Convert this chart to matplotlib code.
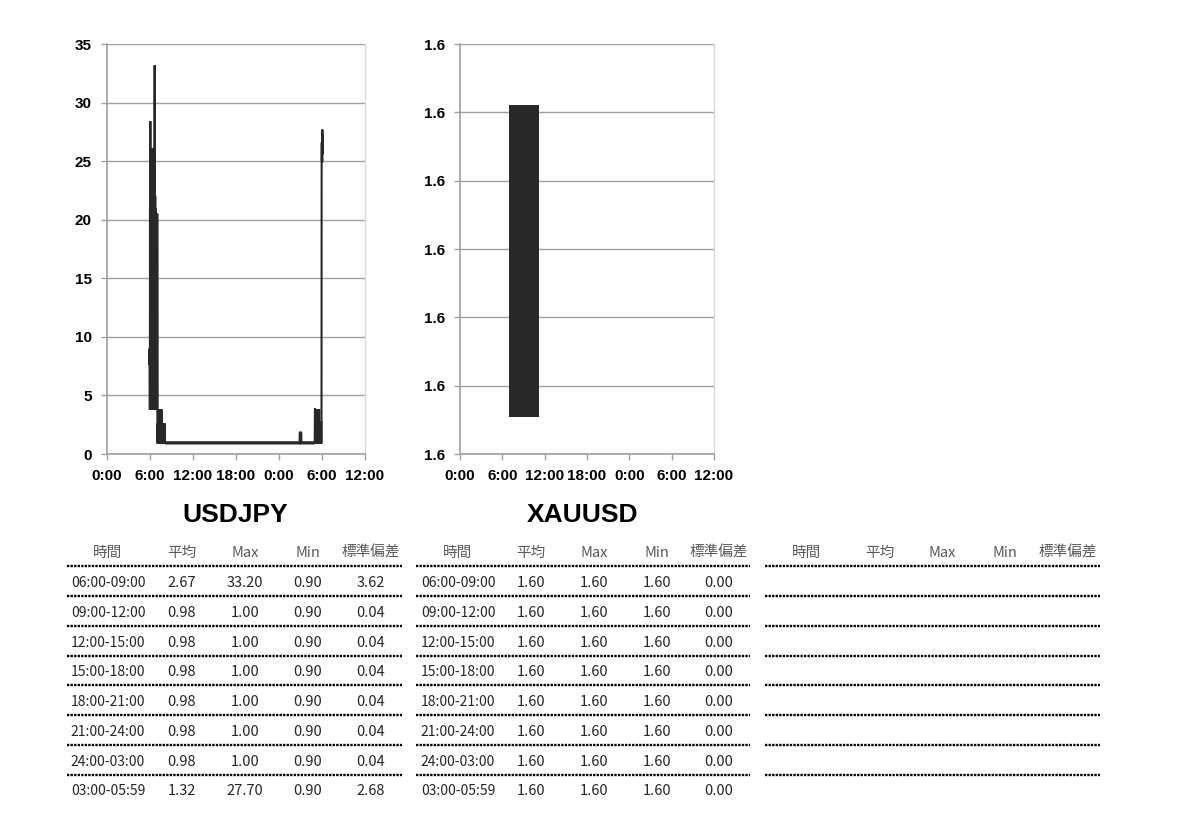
import matplotlib
matplotlib.use('Agg')
import matplotlib.pyplot as plt
from matplotlib.lines import Line2D
from matplotlib.ticker import FixedLocator, FuncFormatter

# ---------------- data ----------------
# USDJPY spread (hours from 0:00 of day 1)
usdjpy_hours = [
    5.92, 5.94, 5.96, 5.98, 6.00, 6.02, 6.05, 6.07, 6.09, 6.11, 6.13, 6.15, 6.17, 6.19, 6.21, 6.23,
    6.25, 6.27, 6.29, 6.31, 6.33, 6.35, 6.37, 6.39, 6.41, 6.43, 6.45, 6.47, 6.49, 6.51, 6.53, 6.55,
    6.57, 6.59, 6.61, 6.63, 6.65, 6.67, 6.69, 6.71, 6.73, 6.75, 6.77, 6.79, 6.81, 6.83, 6.85, 6.87,
    6.89, 6.91, 6.93, 6.95, 6.97, 6.99, 7.01, 7.03,
    7.05, 7.08, 7.11, 7.14, 7.17, 7.20, 7.23, 7.26, 7.29, 7.32, 7.35, 7.38, 7.41,
    7.44, 7.47, 7.50, 7.53, 7.56, 7.59, 7.62, 7.65, 7.68, 7.71, 7.74, 7.77, 7.80, 7.83, 7.86, 7.89,
    7.92, 7.95, 7.98, 8.01, 8.04, 8.07, 8.10,
    12.0, 18.0, 24.0, 26.95, 26.97, 27.03, 27.05, 28.98,
    29.02, 29.05, 29.10, 29.13, 29.17, 29.20, 29.24, 29.27, 29.31, 29.34, 29.38, 29.41, 29.45, 29.48,
    29.52, 29.55, 29.59, 29.62, 29.66, 29.69, 29.73, 29.76, 29.80, 29.83, 29.87, 29.90, 29.93,
    29.95, 29.97, 29.99, 30.01, 30.03, 30.05, 30.07, 30.09, 30.12,
]
usdjpy_spread = [
    7.7, 9.0, 7.8, 3.8, 21.0, 3.8, 28.4, 3.8, 25.2, 3.8, 21.0, 3.8, 25.3, 3.8, 24.0, 3.8,
    25.0, 3.8, 24.6, 3.8, 26.0, 3.8, 25.5, 3.8, 26.1, 3.8, 25.0, 3.8, 24.5, 3.8, 24.0, 3.8,
    23.5, 3.8, 26.0, 3.8, 33.2, 3.8, 22.4, 3.8, 22.0, 3.8, 21.0, 3.8, 20.5, 3.8, 20.5, 3.8,
    20.5, 3.8, 20.5, 3.8, 20.5, 3.8, 20.5, 3.8,
    0.9, 2.6, 0.9, 2.6, 0.9, 2.6, 0.9, 2.6, 0.9, 3.8, 0.9, 2.6, 0.9,
    2.6, 0.9, 3.8, 0.9, 2.6, 0.9, 3.8, 0.9, 2.6, 0.9, 2.6, 0.9, 2.6, 0.9, 2.6, 0.9,
    2.6, 0.9, 2.6, 0.9, 2.6, 0.9, 0.95,
    0.95, 0.95, 0.95, 0.95, 1.8, 1.8, 0.95, 0.95,
    3.9, 0.9, 2.8, 0.9, 3.8, 0.9, 2.8, 0.9, 3.8, 0.9, 2.8, 0.9, 3.8, 0.9,
    2.8, 0.9, 3.8, 0.9, 2.8, 0.9, 2.8, 0.9, 2.8, 0.9, 2.8, 0.9, 1.0,
    24.8, 26.6, 25.0, 26.8, 24.9, 27.7, 25.6, 27.3, 27.0,
]

# XAUUSD spread: range of the oscillating series
xau_hours = [6.94, 11.19]
xau_low = [1.599754, 1.599754]
xau_high = [1.600211, 1.600211]

x_tick_hours = [0, 6, 12, 18, 24, 30, 36]
x_tick_labels = ['0:00', '6:00', '12:00', '18:00', '0:00', '6:00', '12:00']
usd_y_ticks = [0, 5, 10, 15, 20, 25, 30, 35]
xau_y_ticks = [1.5997, 1.5998, 1.5999, 1.6000, 1.6001, 1.6002, 1.6003]

chart_titles = ['USDJPY', 'XAUUSD']

table_headers = ['時間', '平均', 'Max', 'Min', '標準偏差']
periods = ['06:00-09:00', '09:00-12:00', '12:00-15:00', '15:00-18:00',
           '18:00-21:00', '21:00-24:00', '24:00-03:00', '03:00-05:59']
usd_avg = [2.67, 0.98, 0.98, 0.98, 0.98, 0.98, 0.98, 1.32]
usd_max = [33.20, 1.00, 1.00, 1.00, 1.00, 1.00, 1.00, 27.70]
usd_min = [0.90, 0.90, 0.90, 0.90, 0.90, 0.90, 0.90, 0.90]
usd_std = [3.62, 0.04, 0.04, 0.04, 0.04, 0.04, 0.04, 2.68]
xau_avg = [1.60, 1.60, 1.60, 1.60, 1.60, 1.60, 1.60, 1.60]
xau_max = [1.60, 1.60, 1.60, 1.60, 1.60, 1.60, 1.60, 1.60]
xau_min = [1.60, 1.60, 1.60, 1.60, 1.60, 1.60, 1.60, 1.60]
xau_std = [0.00, 0.00, 0.00, 0.00, 0.00, 0.00, 0.00, 0.00]

# ---------------- figure ----------------
W, H = 1180, 838
fig = plt.figure(figsize=(W / 100, H / 100), dpi=100)
fig.patch.set_facecolor('white')

def fx(x):
    return x / W

def fy(y):
    return 1 - y / H

SERIES = '#282828'
GRID = '#a0a0a0'
LAT = ['Liberation Sans', 'DejaVu Sans']

def style_axes(ax):
    ax.set_xlim(0, 36)
    ax.xaxis.set_major_locator(FixedLocator(x_tick_hours))
    ax.set_xticklabels(x_tick_labels)
    ax.grid(axis='y', color=GRID, linewidth=1.0)
    ax.set_axisbelow(True)
    for s in ['left', 'bottom']:
        ax.spines[s].set_color(GRID)
        ax.spines[s].set_linewidth(1.2)
    ax.spines['top'].set_visible(False)
    ax.spines['right'].set_color('#d9d9d9')
    ax.spines['right'].set_linewidth(1.0)
    ax.tick_params(axis='both', colors=GRID, length=4, width=1.0)
    ax.tick_params(axis='x', pad=6.5)
    ax.tick_params(axis='y', pad=7)
    for lab in ax.get_xticklabels() + ax.get_yticklabels():
        lab.set_color('black')
        lab.set_fontfamily(LAT)
        lab.set_fontweight('bold')
        lab.set_fontsize(11)

# USDJPY chart
ax1 = fig.add_axes([fx(107), fy(454), fx(365) - fx(107), fy(44) - fy(454)])
ax1.plot(usdjpy_hours, usdjpy_spread, color=SERIES, linewidth=1.5, solid_joinstyle='miter')
ax1.set_ylim(0, 35)
ax1.yaxis.set_major_locator(FixedLocator(usd_y_ticks))
ax1.yaxis.set_major_formatter(FuncFormatter(lambda v, p: f'{v:.0f}'))
style_axes(ax1)
# the flat part of the series is drawn a bit thicker (0.90-1.00 band)
i0, i1 = usdjpy_hours.index(8.10), usdjpy_hours.index(28.98) + 1
ax1.plot(usdjpy_hours[i0:i1], usdjpy_spread[i0:i1],
         color=SERIES, linewidth=2.3, solid_capstyle='butt')

# XAUUSD chart
ax2 = fig.add_axes([fx(460), fy(454), fx(714) - fx(460), fy(44) - fy(454)])
ax2.fill_between(xau_hours, xau_low, xau_high, color=SERIES, linewidth=0)
ax2.set_ylim(xau_y_ticks[0], xau_y_ticks[-1])
ax2.yaxis.set_major_locator(FixedLocator(xau_y_ticks))
ax2.yaxis.set_major_formatter(FuncFormatter(lambda v, p: f'{v:.1f}'))
style_axes(ax2)

# titles
for cx, t in zip([235, 583], chart_titles):
    fig.text(fx(cx), fy(515), t, ha='center', va='center', fontsize=19, fontweight='bold',
             family=LAT, color='black')

# ---------------- tables ----------------
JP = ['Noto Sans CJK JP', 'DejaVu Sans']
tables = [
    dict(x0=67, x1=402, cols=[108, 182, 245, 308, 371],
         data=[periods, usd_avg, usd_max, usd_min, usd_std]),
    dict(x0=416, x1=750, cols=[458, 531, 594, 657, 719],
         data=[periods, xau_avg, xau_max, xau_min, xau_std]),
    dict(x0=765, x1=1100, cols=[807, 880, 942, 1005, 1068], data=None),
]

header_y = 553
row_y0 = 583
row_step = 29.75
line_y0 = 566
line_step = 29.85

for tb in tables:
    for cx, h in zip(tb['cols'], table_headers):
        fig.text(fx(cx), fy(header_y), h, ha='center', va='center', fontsize=10.5,
                 family=JP, color='#595959')
    for i in range(8):
        ly = line_y0 + i * line_step
        fig.add_artist(Line2D([fx(tb['x0']), fx(tb['x1'])], [fy(ly), fy(ly)],
                              transform=fig.transFigure, color='black', linewidth=1.7,
                              linestyle=(0, (1.0, 0.5))))
    if tb['data'] is not None:
        for i in range(len(periods)):
            ry = row_y0 + i * row_step
            for j, cx in enumerate(tb['cols']):
                v = tb['data'][j][i]
                s = v if isinstance(v, str) else f'{v:.2f}'
                fig.text(fx(cx), fy(ry), s, ha='center', va='center',
                         fontsize=10 if j == 0 else 10.5,
                         family=JP, color='#262626')

fig.savefig('out.png', dpi=100, facecolor='white')
